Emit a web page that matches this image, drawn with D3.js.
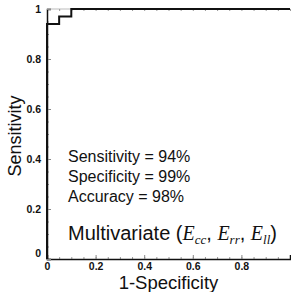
<!DOCTYPE html>
<html>
<head>
<meta charset="utf-8">
<script src="https://cdn.jsdelivr.net/npm/d3@7"></script>
<style>
  body { margin: 0; background: #fff; }
  text { font-family: "Liberation Sans", Arial, sans-serif; fill: #111; }
</style>
</head>
<body>
<div id="canvas"></div>
<script>
// ROC curve points (1-specificity, sensitivity)
var fpr = [0, 0, 0.05, 0.05, 0.1, 0.1, 1];
var tpr = [0, 0.94, 0.94, 0.97, 0.97, 1, 1];
var xTicks = [0, 0.2, 0.4, 0.6, 0.8];
var yTicks = [0, 0.2, 0.4, 0.6, 0.8, 1];
var minorTicks = d3.range(0, 21).map(function(i) { return i / 20; });
var statLines = ["Sensitivity = 94%", "Specificity = 99%", "Accuracy = 98%"];
var subs = ["cc", "rr", "ll"];

var width = 291, height = 292;
var plotLeft = 47, plotRight = 290, plotTop = 9, plotBottom = 259;

var svg = d3.select("#canvas").append("svg")
    .attr("width", width).attr("height", height);

var x = d3.scaleLinear().domain([0, 1]).range([plotLeft, plotRight]);
var y = d3.scaleLinear().domain([0, 1]).range([plotBottom, plotTop]);

// light frame on top
svg.append("line").attr("x1", plotLeft).attr("x2", plotRight).attr("y1", plotTop).attr("y2", plotTop)
    .attr("stroke", "#bbb").attr("stroke-width", 1);

// minor ticks (inside)
var minorX = svg.append("g").attr("transform", "translate(0," + plotBottom + ")")
    .call(d3.axisBottom(x).tickValues(minorTicks).tickSize(-2).tickFormat(""));
var minorY = svg.append("g").attr("transform", "translate(" + plotLeft + ",0)")
    .call(d3.axisLeft(y).tickValues(minorTicks).tickSize(-2).tickFormat(""));
var minorTop = svg.append("g").attr("transform", "translate(0," + plotTop + ")")
    .call(d3.axisTop(x).tickValues(minorTicks).tickSize(-2).tickFormat(""));
[minorX, minorY, minorTop].forEach(function(g) {
    g.select(".domain").remove();
    g.selectAll("line").attr("stroke", "#999");
});

// major axes
var xAxis = svg.append("g").attr("transform", "translate(0," + plotBottom + ")")
    .call(d3.axisBottom(x).tickValues(xTicks).tickSize(-4).tickPadding(6)
        .tickFormat(function(d) { return d === 0 ? "0" : d3.format(".1f")(d); }));
var yAxis = svg.append("g").attr("transform", "translate(" + plotLeft + ",0)")
    .call(d3.axisLeft(y).tickValues(yTicks).tickSize(-4).tickPadding(6)
        .tickFormat(function(d) { return d === 0 || d === 1 ? String(d) : d3.format(".1f")(d); }));

[xAxis, yAxis].forEach(function(g) {
    g.select(".domain").attr("stroke", "#111").attr("stroke-width", 1.5);
    g.selectAll(".tick line").attr("stroke", "#888");
    g.selectAll("text").style("font-size", "10.5px").style("font-weight", "bold").attr("fill", "#222");
});
yAxis.selectAll(".tick text").filter(function(d) { return d === 0; }).attr("dy", "-0.2em");
xAxis.selectAll(".tick text").attr("dy", "0.45em");

// ROC curve
var line = d3.line().x(function(d) { return x(d[0]); }).y(function(d) { return y(d[1]); });
svg.append("path")
    .datum(d3.zip(fpr, tpr))
    .attr("d", line)
    .attr("fill", "none")
    .attr("stroke", "#111")
    .attr("stroke-width", 2);

// axis titles
svg.append("text")
    .attr("x", (plotLeft + plotRight) / 2 + 0).attr("y", 289)
    .attr("text-anchor", "middle")
    .style("font-size", "18.5px")
    .text("1-Specificity");
svg.append("text")
    .attr("transform", "translate(21," + ((plotTop + plotBottom) / 2 + 2) + ") rotate(-90)")
    .attr("text-anchor", "middle")
    .style("font-size", "18px")
    .text("Sensitivity");

// stats
svg.selectAll("text.stat")
    .data(statLines)
    .enter()
    .append("text")
    .attr("class", "stat")
    .attr("x", 68)
    .attr("y", function(d, i) { return 162 + i * 20; })
    .style("font-size", "16px")
    .text(function(d) { return d; });

// Multivariate label
var mv = svg.append("text").attr("x", 68).attr("y", 240).style("font-size", "20px");
mv.append("tspan").text("Multivariate (");
subs.forEach(function(s, i) {
    mv.append("tspan").text("E")
        .style("font-family", "'Liberation Serif', 'Times New Roman', serif")
        .style("font-style", "italic");
    mv.append("tspan").text(s)
        .attr("dy", 4)
        .style("font-family", "'Liberation Serif', 'Times New Roman', serif")
        .style("font-style", "italic")
        .style("font-size", "13px");
    mv.append("tspan").text(i < subs.length - 1 ? ", " : ")").attr("dy", -4);
});
</script>
</body>
</html>
